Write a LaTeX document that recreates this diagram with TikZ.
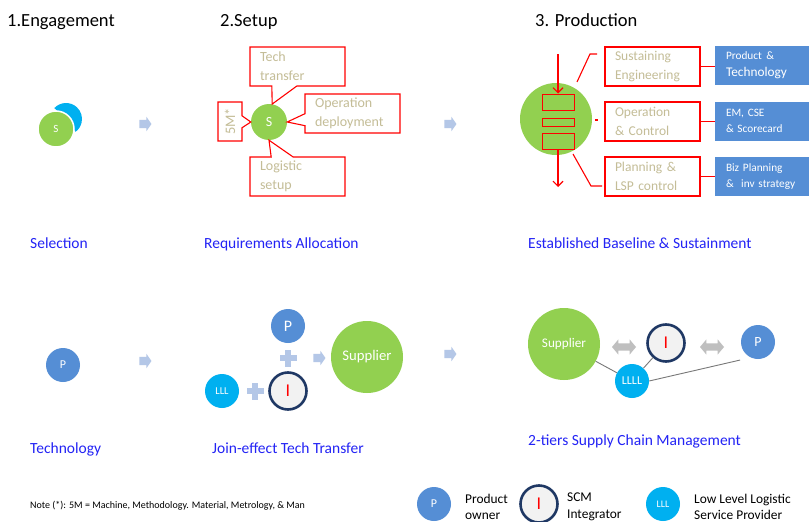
\documentclass[tikz,border=0pt]{standalone}
\usepackage{fontspec}
\setmainfont{Carlito}
\usetikzlibrary{shapes.callouts,shapes.arrows,arrows.meta,calc}

\definecolor{leaf}{RGB}{146,208,80}
\definecolor{ownerblue}{RGB}{85,142,213}
\definecolor{lspcyan}{RGB}{0,176,240}
\definecolor{navy}{RGB}{31,56,100}
\definecolor{ifill}{RGB}{242,242,242}
\definecolor{tan}{RGB}{196,189,151}
\definecolor{flowblue}{RGB}{180,199,231}
\definecolor{swapgray}{RGB}{191,191,191}
\definecolor{captionblue}{RGB}{35,35,245}
\definecolor{wire}{RGB}{120,120,120}

\newcommand{\pxfont}[2]{\fontsize{#1}{#2}\selectfont}

\begin{document}
\begin{tikzpicture}[x=1pt,y=-1pt,
  heading/.style={anchor=base west, inner sep=0pt, font=\pxfont{18.5}{22}},
  caption/.style={anchor=base west, inner sep=0pt, text=captionblue, font=\pxfont{15.5}{18}},
  disc/.style={circle, inner sep=0pt, text=white},
  leafdisc/.style={disc, fill=leaf},
  owner/.style={disc, fill=ownerblue, minimum size=34pt},
  lsp/.style={disc, fill=lspcyan, minimum size=34pt},
  integrator/.style={circle, inner sep=0pt, fill=ifill, draw=navy, line width=2.6pt,
    minimum size=37pt, text=red, font=\pxfont{18}{20}},
  flowarrow/.style={single arrow, fill=flowblue, inner xsep=0pt, inner ysep=4pt,
    minimum height=12pt, single arrow head extend=3pt, single arrow tip angle=110},
  swaparrow/.style={double arrow, fill=swapgray, inner xsep=0pt, inner ysep=3.5pt,
    minimum height=24pt, double arrow head extend=4pt, double arrow tip angle=100},
  note/.style={rectangle callout, draw=red, fill=white, line width=1.1pt, text=tan,
    align=left, inner xsep=10pt, inner ysep=0pt, text width=75pt, minimum height=39pt,
    font=\pxfont{14}{19}},
  stagebox/.style={rectangle, draw=red, line width=1.1pt, text=tan, align=left,
    inner xsep=10pt, inner ysep=0pt, text width=75pt, minimum height=39pt,
    font=\pxfont{13.5}{19}},
  infobox/.style={rectangle, fill=ownerblue, text=white, align=left, inner xsep=11pt,
    inner ysep=0pt, text width=72pt, minimum height=39pt},
  slot/.style={rectangle, draw=red, line width=1pt, minimum width=32pt, inner sep=0pt},
  redline/.style={draw=red, line width=1.1pt},
  redarrow/.style={red, line width=1.1pt, -{Straight Barb[length=5pt,width=10pt]}},
  wireline/.style={draw=wire, line width=0.9pt},
  legend/.style={anchor=west, align=left, inner sep=0pt, font=\pxfont{13.4}{16.5}},
]
\useasboundingbox (0,0) rectangle (809,522);
\fill[white] (0,0) rectangle (809,522);

% ---------- stage headings ----------
\node[heading] (h1) at (7,27) {1.Engagement};
\node[heading] (h2) at (220,27) {2.Setup};
\node[heading] (h3) at (535,27) {3. Production};

% ---------- 1. Engagement ----------
\fill[lspcyan] (66,119) -- ++(-137:16) arc[start angle=-137, end angle=53, radius=16] -- cycle;
\node[leafdisc, minimum size=36pt, draw=white, line width=1.5pt, font=\pxfont{11}{13}] (sel) at (56,129) {S};
\node[flowarrow] (arr-a1) at (144,124) {};

% ---------- 2. Setup ----------
\node[leafdisc, minimum size=36pt, font=\pxfont{14}{16}] (s2) at (269,122) {S};
\node[note, callout absolute pointer={(s2.80)}, callout pointer width=25pt] (tech) at (297.5,66.5) {Tech\\transfer};
\node[note, callout absolute pointer={(s2.east)}, callout pointer width=12pt] (deploy) at (352.5,113.5) {Operation\\deployment};
\node[note, text width=4pt, callout absolute pointer={(s2.west)}, callout pointer width=12pt] (fivem) at (230,121.5) {};
\node[rotate=90, text=tan, inner sep=0pt, font=\pxfont{14.5}{16}] (fivem-text) at (230,121.5) {5M*};
\node[note, callout absolute pointer={(s2.south)}, callout pointer width=22pt] (logi) at (297.5,176.5) {Logistic\\setup};
\node[flowarrow] (arr-a2) at (449,124) {};

% ---------- 3. Production ----------
\node[leafdisc, minimum size=72pt] (prod) at (556,119) {};
\node[slot, minimum height=16pt] (slot1) at (558,102) {};
\node[slot, minimum height=8pt] (slot2) at (558,122) {};
\node[slot, minimum height=16pt] (slot3) at (558,141) {};
\coordinate (feed-in) at (558,54);
\coordinate (feed-out) at (558,187);
\draw[redarrow] (feed-in) -- (slot1.north);
\draw[redarrow] (slot3.south) -- (feed-out);

\node[stagebox] (sust) at (652.5,66.5) {Sustaining\\Engineering};
\node[stagebox] (opctl) at (652.5,121.5) {Operation\\\& Control};
\node[stagebox] (plan) at (652.5,176.5) {Planning \&\\LSP control};

\coordinate (sust-tail) at (577,82);
\coordinate (sust-bend) at (590,54);
\coordinate (sust-end) at (597,54);
\draw[redline] (sust-tail) -- (sust-bend) -- (sust-end);
\coordinate (op-tail) at (595,120);
\coordinate (op-end) at (598,120);
\draw[redline] (op-tail) -- (op-end);
\coordinate (plan-tail) at (573,154);
\coordinate (plan-bend) at (591,186);
\coordinate (plan-end) at (602,186);
\draw[redline] (plan-tail) -- (plan-bend) -- (plan-end);

\node[infobox, font=\pxfont{13.3}{17}] (pt) at (762,65.5) {{\pxfont{11.3}{13}Product \&}\\Technology};
\node[infobox, font=\pxfont{11.3}{15.5}] (em) at (762,121) {EM, CSE\\\& Scorecard};
\node[infobox, font=\pxfont{11.3}{16}] (biz) at (762,176.5) {Biz Planning\\\&~~inv strategy};
\draw[redline] (sust.east) -- (sust.east -| pt.west);
\draw[redline] (opctl.east) -- (opctl.east -| em.west);
\draw[redline] (plan.east) -- (plan.east -| biz.west);

% ---------- row captions ----------
\node[caption] (cap-sel) at (30,248) {Selection};
\node[caption] (cap-req) at (204,248) {Requirements Allocation};
\node[caption] (cap-base) at (528,248) {Established Baseline \& Sustainment};
\node[caption] (cap-tech) at (30,453) {Technology};
\node[caption] (cap-join) at (212,453) {Join-effect Tech Transfer};
\node[caption] (cap-tier) at (528,445) {2-tiers Supply Chain Management};

% ---------- technology ----------
\node[owner, font=\pxfont{12}{14}] (tp1) at (63,365) {P};
\node[flowarrow] (arr-b1) at (144,361) {};

% ---------- join-effect tech transfer ----------
\node[owner, font=\pxfont{16}{18}] (jp) at (288,326) {P};
\fill[flowblue] (279.5,355.25) rectangle (296.5,360.75);
\fill[flowblue] (285.25,349.5) rectangle (290.75,366.5);
\node[flowarrow] (arr-j) at (318,358) {};
\node[leafdisc, minimum size=72pt, font=\pxfont{14.7}{17}] (jsup) at (367,357) {Supplier};
\node[lsp, font=\pxfont{10.5}{12}] (jl) at (222,391) {LLL};
\fill[flowblue] (246.5,388.25) rectangle (263.5,393.75);
\fill[flowblue] (252.25,382.5) rectangle (257.75,399.5);
\node[integrator] (ji) at (288,391) {I};
\node[flowarrow] (arr-b2) at (449,354) {};

% ---------- 2-tiers supply chain ----------
\node[leafdisc, minimum size=72pt, font=\pxfont{13.2}{15}] (tsup) at (564,344) {Supplier};
\node[swaparrow] (swap1) at (624,347) {};
\node[integrator] (ti) at (666,343) {I};
\node[swaparrow] (swap2) at (712,347) {};
\node[owner, font=\pxfont{14}{16}] (tpo) at (758,342) {P};
\node[lsp, font=\pxfont{12}{14}] (tl) at (632,381) {LLLL};
\draw[wireline] (tsup) -- (tl);
\draw[wireline] (ti) -- (tl);
\draw[wireline, shorten >=11pt] (tl.0) -- (tpo.245);

% ---------- footnote and legend ----------
\node[anchor=base west, inner sep=0pt, font=\pxfont{10}{12}] (footnote) at (30,508)
  {Note (*): 5M = Machine, Methodology. Material, Metrology, \& Man};
\node[owner, font=\pxfont{12}{14}] (lg-p) at (434,504) {P};
\node[legend] (lg-pt) at (465,507) {Product\\owner};
\node[integrator] (lg-i) at (539,504) {I};
\node[legend] (lg-it) at (567,507) {SCM\\Integrator};
\node[lsp, font=\pxfont{10}{12}] (lg-l) at (663,504) {LLL};
\node[legend] (lg-lt) at (694,507) {Low Level Logistic\\Service Provider};
\end{tikzpicture}
\end{document}
